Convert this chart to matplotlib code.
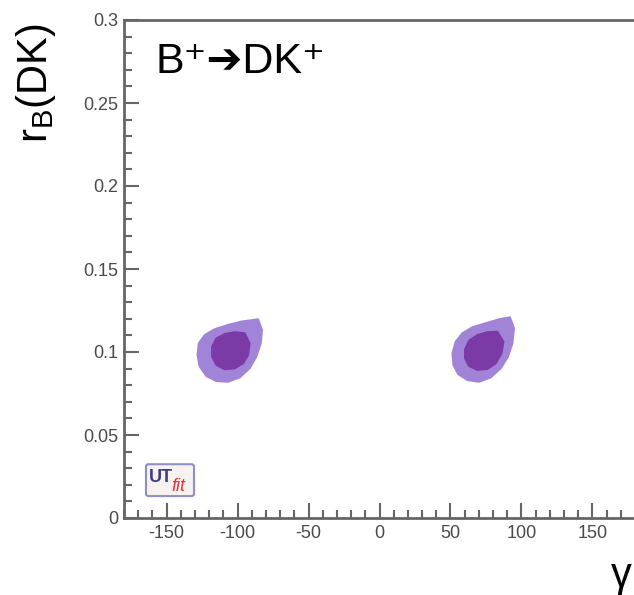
import matplotlib
matplotlib.use("Agg")
import matplotlib.pyplot as plt
from matplotlib.patches import Polygon, FancyBboxPatch
from matplotlib.ticker import MultipleLocator

plt.rcParams['font.family'] = ['Liberation Sans', 'DejaVu Sans']
plt.rcParams['mathtext.fontset'] = 'custom'
plt.rcParams['mathtext.rm'] = 'Liberation Sans'
plt.rcParams['mathtext.it'] = 'Liberation Sans:italic'
plt.rcParams['axes.unicode_minus'] = False

# contour outlines (gamma in degrees, r_B)
left_outer_gamma = [-85.6, -82.8, -83.7, -86.8, -91.5, -98.5, -106.7, -114.9,
                    -121.9, -126.6, -128.2, -127.3, -123.1, -116.1, -106.7, -97.3]
left_outer_r = [0.1197, 0.1133, 0.1052, 0.0972, 0.0902, 0.0847, 0.0821, 0.0825,
                0.0855, 0.0912, 0.0982, 0.1052, 0.1102, 0.1137, 0.1163, 0.1183]
left_inner_gamma = [-95.0, -91.5, -92.6, -96.1, -102.0, -109.0, -114.9, -117.9,
                    -117.9, -114.9, -109.0, -102.0]
left_inner_r = [0.1113, 0.1052, 0.0982, 0.0932, 0.0902, 0.0896, 0.0922, 0.0972,
                0.1032, 0.1082, 0.1108, 0.1119]

right_outer_gamma = [91.9, 94.7, 93.6, 90.5, 85.4, 78.3, 70.1, 62.0,
                     55.4, 52.1, 51.4, 53.7, 58.4, 65.5, 74.8, 84.2]
right_outer_r = [0.1209, 0.1143, 0.1052, 0.0972, 0.0902, 0.0847, 0.0821, 0.0831,
                 0.0867, 0.0922, 0.0992, 0.1062, 0.1113, 0.1149, 0.1173, 0.1197]
right_inner_gamma = [83.0, 87.3, 85.9, 81.9, 76.0, 69.0, 63.1, 60.3,
                     60.3, 63.1, 69.0, 76.0]
right_inner_r = [0.1122, 0.1062, 0.0992, 0.0932, 0.0898, 0.0892, 0.0916, 0.0962,
                 0.1016, 0.1068, 0.1102, 0.1119]

outer_color = '#a184d8'
inner_color = '#7b3aa6'
axis_grey = '#666666'

fig = plt.figure(figsize=(6.34, 5.95), dpi=100)
ax = fig.add_axes([124 / 634, 77 / 595, 511 / 634, 498 / 595])

for g, r, c in [(left_outer_gamma, left_outer_r, outer_color),
                (left_inner_gamma, left_inner_r, inner_color),
                (right_outer_gamma, right_outer_r, outer_color),
                (right_inner_gamma, right_inner_r, inner_color)]:
    ax.add_patch(Polygon(list(zip(g, r)), closed=True, facecolor=c,
                         edgecolor=c, linewidth=1.5, joinstyle='round'))

ax.set_xlim(-180, 180)
ax.set_ylim(0, 0.3)
ax.xaxis.set_minor_locator(MultipleLocator(10))
ax.yaxis.set_minor_locator(MultipleLocator(0.01))
ax.set_yticks([0, 0.05, 0.1, 0.15, 0.2, 0.25, 0.3])
ax.set_yticklabels(['0', '0.05', '0.1', '0.15', '0.2', '0.25', '0.3'])
ax.set_xticks([-150, -100, -50, 0, 50, 100, 150])
ax.set_xticklabels(['-150', '-100', '-50', '0', '50', '100', '150'])

ax.tick_params(which='both', direction='in', color=axis_grey, width=1.5,
               labelcolor='#4a4a4a', labelsize=13)
ax.tick_params(which='major', length=11)
ax.tick_params(which='minor', length=5.5)
ax.tick_params(axis='y', pad=4)
ax.tick_params(axis='x', pad=5)
for s in ax.spines.values():
    s.set_color(axis_grey)
    s.set_linewidth(2)

# decay label: superscripts and arrow drawn from the font fallback list
ax.text(0.061, 0.894, 'B⁺➔DK⁺', transform=ax.transAxes, fontsize=31,
        va='baseline', ha='left', color='black',
        family=['Liberation Sans', 'DejaVu Sans'])

# axis titles, ROOT style at the ends of the axes
fig.text(36 / 634, 1 - 23 / 595, r'$\mathregular{r_B(DK)}$', rotation=90,
         ha='center', va='top', fontsize=30)
fig.text(632 / 634, 8 / 595, 'γ', ha='right', va='baseline', fontsize=30)

# UTfit logo box
ax.add_patch(FancyBboxPatch((0.043, 0.044), 0.094, 0.064,
                            boxstyle='round,pad=0,rounding_size=0.005',
                            transform=ax.transAxes, facecolor='#f7f2f0',
                            edgecolor='#8f8fc4', linewidth=1.5, zorder=5))
ax.text(0.049, 0.082, 'UT', transform=ax.transAxes, fontsize=13,
        fontweight='bold', color='#3b3b88', va='center', ha='left', zorder=6)
ax.text(0.093, 0.064, 'fit', transform=ax.transAxes, fontsize=13,
        fontstyle='italic', color='#e03040', va='center', ha='left', zorder=6)

fig.savefig('out.png', dpi=100)
